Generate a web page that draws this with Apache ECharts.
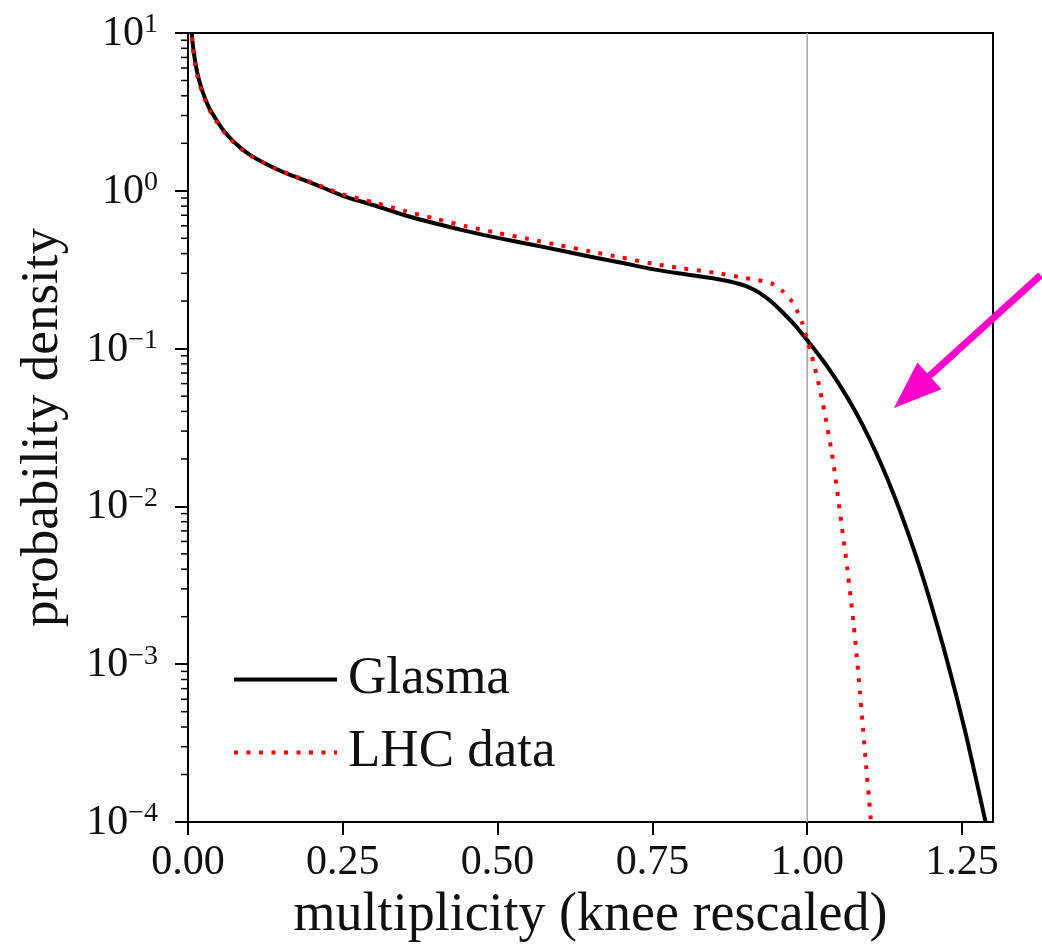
<!DOCTYPE html>
<html>
<head>
<meta charset="utf-8">
<script src="https://cdn.jsdelivr.net/npm/echarts@6/dist/echarts.min.js"></script>
<style>
html,body{margin:0;padding:0;background:#ffffff;}
#chart{width:1042px;height:948px;}
</style>
</head>
<body>
<div id="chart"></div>
<script>
// ---- data ----
const glasmaX = [0.006,0.008,0.011,0.015,0.020,0.027,0.035,0.045,0.057,0.070,0.085,0.100,0.120,0.140,0.165,0.200,0.250,0.300,0.350,0.400,0.450,0.500,0.550,0.600,0.650,0.700,0.750,0.800,0.850,0.875,0.900,0.915,0.930,0.945,0.960,0.980,1.000,1.020,1.040,1.060,1.080,1.100,1.120,1.140,1.160,1.180,1.200,1.220,1.240,1.260,1.288];
const glasmaY = [10,8.3,6.8,5.6,4.7,3.9,3.3,2.85,2.42,2.12,1.87,1.69,1.52,1.39,1.26,1.12,0.93,0.81,0.70,0.62,0.555,0.503,0.46,0.42,0.382,0.35,0.319,0.297,0.278,0.266,0.250,0.235,0.216,0.194,0.170,0.141,0.113,0.0897,0.0697,0.0526,0.0385,0.0271,0.0183,0.0118,0.00729,0.00430,0.00240,0.00128,0.000647,0.00031,0.0001];
const lhcX = [0.006,0.008,0.011,0.015,0.020,0.027,0.035,0.045,0.057,0.070,0.085,0.100,0.120,0.140,0.165,0.200,0.250,0.300,0.350,0.400,0.450,0.500,0.550,0.600,0.650,0.700,0.750,0.800,0.850,0.900,0.920,0.944,0.960,0.974,0.984,0.992,1.000,1.005,1.010,1.015,1.020,1.025,1.030,1.035,1.040,1.045,1.050,1.055,1.060,1.065,1.070,1.075,1.080,1.085,1.090,1.095,1.100,1.103];
const lhcY = [9.4,7.9,6.5,5.4,4.55,3.8,3.22,2.79,2.38,2.09,1.85,1.68,1.52,1.39,1.27,1.13,0.95,0.845,0.745,0.665,0.595,0.54,0.495,0.452,0.412,0.378,0.345,0.322,0.303,0.28,0.272,0.257,0.232,0.202,0.172,0.145,0.113,0.0977,0.0822,0.0684,0.0562,0.0452,0.0359,0.0280,0.0214,0.01585,0.01122,0.00794,0.00562,0.00394,0.00269,0.00178,0.00112,0.000676,0.000398,0.000229,0.000138,0.0001];
const xTickValues = [0,0.25,0.5,0.75,1.0,1.25];
const yTickValues = [1e-4,1e-3,1e-2,1e-1,1,10];
const minorMultipliers = [2,3,4,5,6,7,8,9];
const minorDecades = [1e-4,1e-3,1e-2,1e-1,1];
const vlineX = [1,1];
const vlineY = [1e-4,10];
const arrowFrom = [1.377,0.292];
const arrowTo = [1.14,0.042];
const seriesNames = ['Glasma','LHC data'];
const xName = 'multiplicity (knee rescaled)';
const yName = 'probability density';

const FONT = '"Liberation Serif", "DejaVu Serif", serif';
const zip = (xs, ys) => xs.map((x, i) => [x, ys[i]]);
const minorValues = [];
minorDecades.forEach(d => minorMultipliers.forEach(m => minorValues.push(m * d)));

const chart = echarts.init(document.getElementById('chart'), null, {renderer:'canvas'});

function supLabel(v){
  const e = Math.round(Math.log10(v));
  const s = e < 0 ? '\u2212' + (-e) : String(e);
  return '{b|10}{s|' + s + '}';
}

const BLACK_W = 4;
const RED_W = 4;
const RED_DASH = [4, 8.5];

const option = {
  backgroundColor:'#ffffff',
  animation:false,
  grid:{left:188,right:49,top:33,bottom:126,show:true,borderColor:'#000',borderWidth:2,backgroundColor:'transparent'},
  legend:{
    data:[
      {name:seriesNames[0], lineStyle:{width:BLACK_W,color:'#000'}},
      {name:seriesNames[1], lineStyle:{width:RED_W,color:'#ff0000',type:RED_DASH,cap:'butt'}}
    ],
    orient:'vertical', left:227, top:648,
    itemWidth:103, itemHeight:14, itemGap:20,
    itemStyle:{color:'rgba(0,0,0,0)',borderColor:'rgba(0,0,0,0)',borderWidth:0},
    textStyle:{fontFamily:FONT,fontSize:53,color:'#111',lineHeight:50,padding:[0,0,0,6]},
    selectedMode:false
  },
  xAxis:{
    type:'value', min:0, max:1.3,
    name:xName, nameLocation:'middle', nameGap:39,
    nameTextStyle:{fontFamily:FONT,fontSize:54,color:'#111'},
    axisLine:{show:true,lineStyle:{color:'#000',width:2}},
    axisTick:{show:true,inside:false,length:13,lineStyle:{color:'#000',width:2},customValues:xTickValues},
    axisLabel:{fontFamily:FONT,fontSize:42,color:'#111',margin:20,customValues:xTickValues,
      formatter:v=>v.toFixed(2)},
    splitLine:{show:false}
  },
  yAxis:{
    type:'log', logBase:10, min:1e-4, max:10,
    name:yName, nameLocation:'middle', nameGap:118, nameRotate:90,
    nameTextStyle:{fontFamily:FONT,fontSize:53,color:'#111'},
    axisLine:{show:true,lineStyle:{color:'#000',width:2}},
    axisTick:{show:true,inside:false,length:13,lineStyle:{color:'#000',width:2},customValues:yTickValues},
    axisLabel:{margin:30,customValues:yTickValues,formatter:supLabel,
      rich:{
        b:{fontFamily:FONT,fontSize:42,color:'#111',lineHeight:44,verticalAlign:'bottom'},
        s:{fontFamily:FONT,fontSize:28,color:'#111',lineHeight:44,verticalAlign:'top',padding:[0,0,14,0]}
      }},
    splitLine:{show:false}
  },
  series:[
    {
      name:'vline', type:'line', data:zip(vlineX, vlineY), z:1, silent:true,
      symbol:'none', lineStyle:{color:'#a8a8a8',width:1.6}
    },
    {
      name:seriesNames[0], type:'line', data:zip(glasmaX, glasmaY), z:3,
      symbol:'none', smooth:0.25, lineStyle:{color:'#000000',width:BLACK_W},
      itemStyle:{color:'#000000'}
    },
    {
      name:seriesNames[1], type:'line', data:zip(lhcX, lhcY), z:4,
      symbol:'none', smooth:0.25,
      lineStyle:{color:'#ff0000',width:RED_W,type:RED_DASH,cap:'butt'},
      itemStyle:{color:'#ff0000'}
    },
    {
      name:'minorTicks', type:'custom', silent:true, clip:false, z:5,
      data:minorValues.map(v=>[0,v]),
      renderItem:function(params, api){
        const p = api.coord([0, api.value(1)]);
        return {type:'line', shape:{x1:p[0]-7,y1:p[1],x2:p[0],y2:p[1]},
          style:{stroke:'#000',lineWidth:1.5}};
      }
    }
  ]
};
chart.setOption(option);

// annotation arrow placed through the axes' scales
const a0 = chart.convertToPixel({gridIndex:0}, arrowFrom);
const a1 = chart.convertToPixel({gridIndex:0}, arrowTo);
const dx = a1[0]-a0[0], dy = a1[1]-a0[1];
const L = Math.sqrt(dx*dx+dy*dy);
const ux = dx/L, uy = dy/L, nx = -uy, ny = ux;
const headLen = 48, headHalf = 18;
const bx = a1[0]-ux*headLen, by = a1[1]-uy*headLen;
chart.setOption({
  graphic:[
    {type:'line', z:100, shape:{x1:a0[0],y1:a0[1],x2:bx+ux*6,y2:by+uy*6},
      style:{stroke:'#ff00cc',lineWidth:7}},
    {type:'polygon', z:100, shape:{points:[[a1[0],a1[1]],[bx+nx*headHalf,by+ny*headHalf],[bx-nx*headHalf,by-ny*headHalf]]},
      style:{fill:'#ff00cc'}}
  ]
});
</script>
</body>
</html>
